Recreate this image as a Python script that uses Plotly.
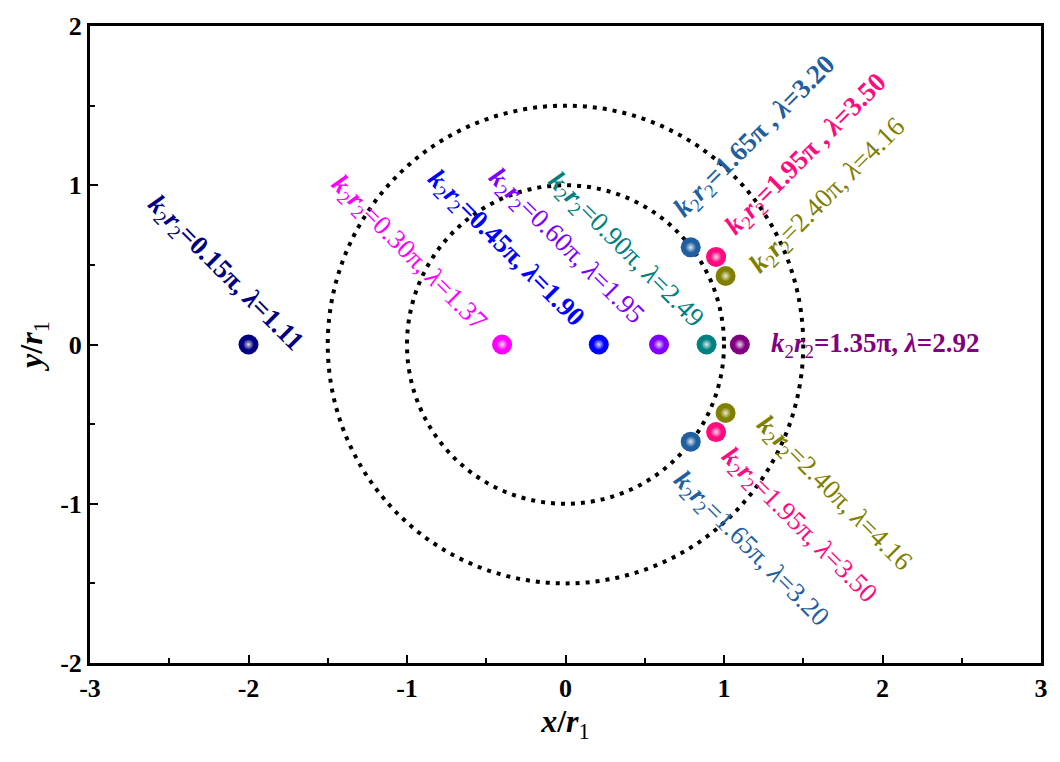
import plotly.graph_objects as go

# ---- data ----
x_pos = [-2.00, -0.40, 0.21, 0.59, 0.89, 1.10, 0.79, 0.95, 1.01, 0.79, 0.95, 1.01]
y_pos = [0.00, 0.00, 0.00, 0.00, 0.00, 0.00, 0.61, 0.55, 0.43, -0.61, -0.55, -0.43]
colors = ["#000080", "#FF00FF", "#0000FF", "#8000FF", "#008080", "#800080",
          "#1F5FA0", "#FF0A80", "#808000", "#1F5FA0", "#FF0A80", "#808000"]
k2r2 = ["0.15", "0.30", "0.45", "0.60", "0.90", "1.35", "1.65", "1.95", "2.40", "1.65", "1.95", "2.40"]
lam = ["1.11", "1.37", "1.90", "1.95", "2.49", "2.92", "3.20", "3.50", "4.16", "3.20", "3.50", "4.16"]
comma_sep = [", ", ", ", ", ", ", ", ", ", ", ", " , ", " , ", ", ", ", ", ", ", ", "]
label_x = [-2.15, -0.99, -0.38, 0.00, 0.38, 1.95, 1.20, 1.52, 1.66, 1.17, 1.47, 1.69]
label_y = [0.44, 0.57, 0.60, 0.61, 0.59, 0.00, 1.30, 1.19, 0.93, -1.29, -1.14, -0.94]
label_angle = [45, 45, 45, 45, 45, 0, -45, -45, -45, 45, 45, 45]
label_bold = [True, False, True, False, False, True, True, True, False, False, False, False]
circle_radii = [1.0, 1.5]

x_ticks = [-3, -2, -1, 0, 1, 2, 3]
y_ticks = [-2, -1, 0, 1, 2]


def tint(hexcol, f):
    h = hexcol.lstrip("#")
    r, g, b = int(h[0:2], 16), int(h[2:4], 16), int(h[4:6], 16)
    r = int(r + (255 - r) * f); g = int(g + (255 - g) * f); b = int(b + (255 - b) * f)
    return f"rgb({r},{g},{b})"


FONT = "Liberation Serif"
fig = go.Figure()

# dotted circles
for r in circle_radii:
    fig.add_shape(type="circle", xref="x", yref="y", x0=-r, y0=-r, x1=r, y1=r,
                  line=dict(color="black", width=4, dash="4px,6px"), layer="below")

# spheres: solid body + glossy core
fig.add_trace(go.Scatter(
    x=x_pos, y=y_pos, mode="markers",
    marker=dict(size=20, color=colors, line=dict(width=0)),
    showlegend=False, hoverinfo="skip"))
fig.add_trace(go.Scatter(
    x=x_pos, y=y_pos, mode="markers",
    marker=dict(size=11, color=colors,
                gradient=dict(type="radial", color=[tint(c, 0.85) for c in colors]),
                line=dict(width=0)),
    showlegend=False, hoverinfo="skip"))

# labels
for i in range(len(x_pos)):
    num = f"={k2r2[i]}π{comma_sep[i]}<i>λ</i>={lam[i]}"
    if label_bold[i]:
        num = f"<b>{num}</b>"
    txt = f"<b><i>k</i></b><sub>2</sub><b><i>r</i></b><sub>2</sub>{num}"
    fig.add_annotation(x=label_x[i], y=label_y[i], xref="x", yref="y", text=txt,
                       showarrow=False, textangle=label_angle[i],
                       xanchor="center", yanchor="middle",
                       font=dict(family=FONT, size=27, color=colors[i]))

axis_common = dict(
    showgrid=False, zeroline=False, showline=True, linecolor="black", linewidth=3,
    mirror=True, ticks="inside", ticklen=8, tickwidth=2, tickcolor="black",
    tickfont=dict(family=FONT, size=26, color="black", weight="bold"),
    minor=dict(ticks="inside", ticklen=5, tickwidth=2, tickcolor="black", dtick=0.5),
)

fig.update_xaxes(range=[-3, 3], tickvals=x_ticks, ticktext=[str(v) for v in x_ticks],
                 title=dict(text="<b><i>x</i>/<i>r</i></b><sub>1</sub>",
                            font=dict(family=FONT, size=32, color="black"), standoff=8),
                 **axis_common)
fig.update_yaxes(range=[-2, 2], tickvals=y_ticks, ticktext=[str(v) for v in y_ticks],
                 title=dict(text="<b><i>y</i>/<i>r</i></b><sub>1</sub>",
                            font=dict(family=FONT, size=32, color="black"), standoff=8),
                 **axis_common)

fig.update_layout(width=1060, height=762, plot_bgcolor="white", paper_bgcolor="white",
                  margin=dict(l=90, r=13, t=22, b=99))

fig.write_html("out.html")
